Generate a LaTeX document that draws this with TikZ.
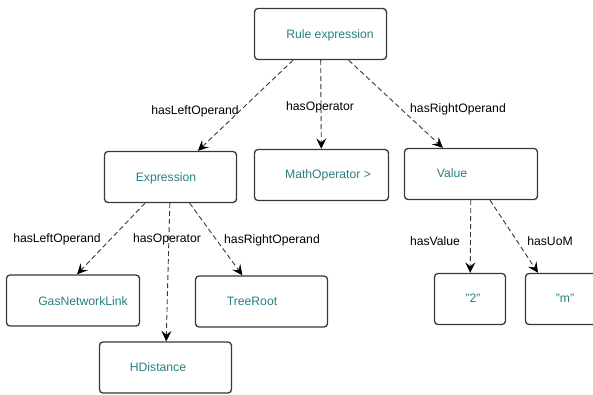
\documentclass[tikz,border=0pt]{standalone}
\usepackage{fontspec}
\setmainfont{Liberation Sans}
\usetikzlibrary{arrows.meta}
\definecolor{termcol}{RGB}{38,128,128}
\definecolor{linecol}{RGB}{56,56,56}

\begin{document}
\begin{tikzpicture}[x=1pt,y=-1pt,
		box/.style={draw=linecol, line width=1.3pt, rounded corners=3.5pt, minimum width=#1, minimum height=51pt, inner sep=0pt},
		box/.default=132pt,
		term/.style={text=termcol, font=\fontsize{12.2}{14}\selectfont, inner sep=0pt, text height=9pt, text depth=2.5pt},
		rel/.style={font=\fontsize{12.2}{14}\selectfont, inner sep=0pt, text height=9pt, text depth=2.5pt},
		link/.style={draw=linecol, line width=0.9pt, dash pattern=on 5pt off 3pt, -{Stealth[length=10.5pt,width=10pt,inset=4pt,black]}}]
		\useasboundingbox (0,0) rectangle (593,395);

		% boxes
		\node [box] (rule) at (320.5,34) {};
		\node [box] (expr) at (170.5,177) {};
		\node [box=134pt] (mathop) at (321.5,175) {};
		\node [box=133pt] (value) at (471,174) {};
		\node [box=133pt] (gnl) at (73,300.5) {};
		\node [box] (tree) at (261.5,301.5) {};
		\node [box] (hdist) at (165.5,367.5) {};
		\node [box=71pt] (two) at (470,299) {};
		\node [box=71pt] (uom) at (561,299) {};

		% box texts
		\node [term] (rule-t) at (330,35) {Rule expression};
		\node [term] (expr-t) at (166,178) {Expression};
		\node [term] (mathop-t) at (328,175) {MathOperator >};
		\node [term] (value-t) at (452,174) {Value};
		\node [term] (gnl-t) at (83,302) {GasNetworkLink};
		\node [term] (tree-t) at (252,302) {TreeRoot};
		\node [term] (hdist-t) at (158,368) {HDistance};
		\node [term] (two-t) at (473,299) {"2"};
		\node [term] (uom-t) at (565,299) {"m"};

		% relations
		\draw [link] (rule) -- (expr);
		\draw [link] (rule) -- (mathop);
		\draw [link] (rule) -- (value);
		\draw [link] ([xshift=-25.5pt]expr.south) -- ([xshift=4pt]gnl.north);
		\draw [link] (expr) -- (hdist);
		\draw [link] (expr) -- (tree);
		\draw [link] (value) -- (two);
		\draw [link] ([xshift=19pt]value.south) -- ([xshift=-23pt]uom.north);

		\node [rel] (left-r) at (195,111) {hasLeftOperand};
		\node [rel] (op-r) at (320,107) {hasOperator};
		\node [rel] (right-r) at (458,109) {hasRightOperand};
		\node [rel] (left-e) at (57,239) {hasLeftOperand};
		\node [rel] (op-e) at (167,239) {hasOperator};
		\node [rel] (right-e) at (272,240) {hasRightOperand};
		\node [rel] (val-v) at (435,242) {hasValue};
		\node [rel] (uom-v) at (550,242) {hasUoM};
	\end{tikzpicture}
\end{document}
